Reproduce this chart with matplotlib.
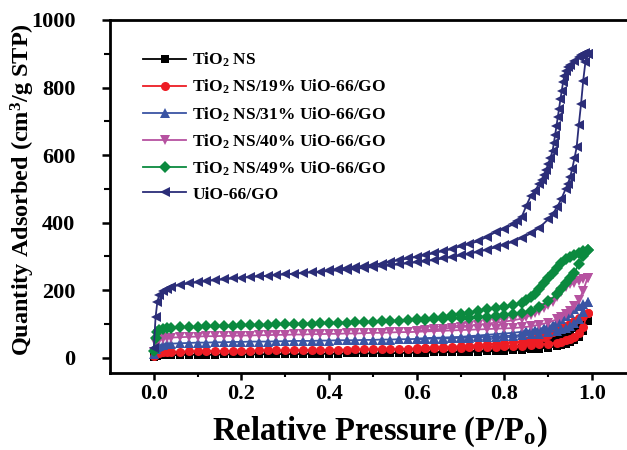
import numpy as np
import matplotlib
matplotlib.use("Agg")
import matplotlib.pyplot as plt
from matplotlib.ticker import MultipleLocator, FixedLocator

plt.rcParams['font.family'] = ['Liberation Serif', 'DejaVu Serif']
plt.rcParams['font.weight'] = 'bold'
plt.rcParams['mathtext.fontset'] = 'custom'
plt.rcParams['mathtext.rm'] = 'Liberation Serif:bold'
plt.rcParams['mathtext.it'] = 'Liberation Serif:bold'
plt.rcParams['mathtext.bf'] = 'Liberation Serif:bold'

# relative pressure grid, adsorption branch (low -> high)
p_ads = [0.0, 0.004, 0.008, 0.012, 0.02, 0.03, 0.04, 0.06, 0.08, 0.10,
         0.12, 0.14, 0.16, 0.18, 0.20, 0.22, 0.24, 0.26, 0.28, 0.30,
         0.32, 0.34, 0.36, 0.38, 0.40, 0.42, 0.44, 0.46, 0.48, 0.50,
         0.52, 0.54, 0.56, 0.58, 0.60, 0.62, 0.64, 0.66, 0.68, 0.70,
         0.72, 0.74, 0.76, 0.78, 0.80, 0.82, 0.84, 0.86, 0.88, 0.90,
         0.92, 0.93, 0.94, 0.95, 0.96, 0.97, 0.98, 0.99]

# desorption branch (high -> low)
p_des = [0.99, 0.98, 0.97, 0.96, 0.95, 0.94, 0.93, 0.92, 0.91, 0.90,
         0.89, 0.88, 0.87, 0.86, 0.85, 0.84, 0.82, 0.80, 0.78, 0.76,
         0.74, 0.72, 0.70, 0.68, 0.66, 0.64, 0.62, 0.60]

# UiO-66/GO was measured on a finer grid near saturation
p_ads_uio = [0.0, 0.004, 0.008, 0.012, 0.02, 0.03, 0.04, 0.06, 0.08, 0.10,
             0.12, 0.14, 0.16, 0.18, 0.20, 0.22, 0.24, 0.26, 0.28, 0.30,
             0.32, 0.34, 0.36, 0.38, 0.40, 0.42, 0.44, 0.46, 0.48, 0.50,
             0.52, 0.54, 0.56, 0.58, 0.60, 0.62, 0.64, 0.66, 0.68, 0.70,
             0.72, 0.74, 0.76, 0.78, 0.80, 0.82, 0.84, 0.86, 0.88, 0.90,
             0.91, 0.92, 0.93, 0.94, 0.945, 0.95, 0.955, 0.96, 0.965, 0.97,
             0.975, 0.98, 0.985, 0.99]

p_des_uio = [0.99, 0.985, 0.98, 0.975, 0.97, 0.96, 0.95, 0.945, 0.94, 0.937,
             0.934, 0.931, 0.928, 0.925, 0.922, 0.919, 0.916, 0.913, 0.91, 0.905,
             0.90, 0.895, 0.89, 0.885, 0.88, 0.87, 0.86, 0.85, 0.84, 0.83,
             0.82, 0.80, 0.78, 0.76, 0.74, 0.72, 0.70, 0.68, 0.66, 0.64,
             0.62, 0.60, 0.58, 0.56, 0.54, 0.52, 0.50, 0.48, 0.46, 0.44,
             0.42, 0.40]

tio2_ads = [2, 5, 6, 7, 7, 8, 8, 8, 9, 9,
            9, 9, 10, 10, 10, 10, 10, 11, 11, 11,
            11, 11, 12, 12, 12, 12, 13, 13, 13, 13,
            14, 14, 14, 15, 15, 15, 16, 16, 17, 17,
            18, 18, 19, 20, 21, 22, 23, 25, 27, 30,
            34, 37, 41, 46, 53, 63, 80, 108]
tio2_des = [108, 102, 95, 87, 78, 70, 62, 55, 49, 44,
            40, 37, 34, 32, 30, 28, 26, 24, 23, 22,
            21, 20, 19, 18, 18, 17, 17, 16]

u19_ads = [4, 10, 13, 15, 16, 17, 18, 18, 19, 19,
           20, 20, 20, 21, 21, 21, 22, 22, 22, 22,
           23, 23, 23, 23, 24, 24, 24, 25, 25, 25,
           26, 26, 26, 27, 27, 28, 28, 29, 29, 30,
           31, 31, 32, 33, 34, 35, 36, 38, 40, 42,
           45, 48, 52, 57, 63, 72, 92, 132]
u19_des = [132, 124, 118, 110, 102, 95, 89, 82, 75, 68,
           63, 59, 55, 52, 50, 48, 46, 44, 42, 40,
           38, 36, 34, 33, 32, 31, 30, 29]

u31_ads = [10, 25, 32, 36, 39, 41, 42, 43, 44, 45,
           45, 46, 46, 47, 47, 48, 48, 48, 49, 49,
           50, 50, 50, 51, 51, 52, 52, 52, 53, 53,
           54, 54, 55, 55, 56, 56, 57, 57, 58, 59,
           60, 61, 62, 63, 64, 66, 67, 69, 71, 75,
           80, 84, 88, 94, 103, 116, 135, 165]
u31_des = [165, 160, 152, 143, 133, 123, 114, 105, 98, 93,
           89, 86, 83, 81, 79, 77, 74, 72, 70, 68,
           66, 64, 62, 61, 60, 59, 58, 57]

u40_ads = [18, 40, 50, 54, 57, 59, 60, 61, 62, 63,
           64, 64, 65, 65, 66, 66, 67, 67, 68, 68,
           69, 69, 70, 70, 71, 71, 72, 72, 73, 74,
           74, 75, 76, 76, 77, 78, 79, 80, 81, 82,
           83, 84, 85, 86, 87, 88, 90, 93, 98, 104,
           114, 121, 129, 140, 152, 170, 198, 237]
u40_des = [237, 234, 228, 222, 217, 210, 195, 180, 166, 155,
           146, 139, 132, 126, 120, 116, 111, 107, 104, 101,
           98, 95, 92, 89, 86, 84, 82, 80]

u49_ads = [20, 60, 75, 81, 85, 87, 88, 90, 91, 92,
           93, 94, 95, 95, 96, 97, 97, 98, 99, 99,
           100, 101, 101, 102, 103, 104, 104, 105, 106, 107,
           108, 109, 110, 111, 112, 113, 114, 116, 117, 118,
           119, 121, 122, 124, 126, 129, 133, 139, 150, 167,
           188, 203, 220, 236, 252, 278, 300, 318]
u49_des = [318, 316, 310, 305, 299, 292, 280, 266, 250, 235,
           220, 205, 190, 180, 170, 163, 156, 151, 147, 143,
           138, 134, 130, 126, 122, 119, 116, 114]

uio_ads = [30, 120, 165, 185, 197, 205, 210, 216, 220, 224,
           227, 230, 232, 235, 237, 239, 241, 243, 245, 247,
           249, 251, 253, 255, 257, 259, 261, 264, 266, 269,
           271, 274, 277, 280, 283, 286, 290, 294, 298, 303,
           308, 314, 320, 327, 335, 344, 355, 368, 385, 410,
           425, 445, 470, 500, 515, 534, 560, 590, 623, 690,
           750, 820, 875, 900]
uio_des = [900, 903, 900, 895, 890, 880, 868, 860, 850, 835,
           815, 790, 765, 738, 712, 686, 660, 635, 612, 592,
           573, 556, 540, 527, 515, 495, 478, 450, 418, 405,
           395, 382, 372, 358, 345, 337, 330, 322, 316, 310,
           304, 299, 294, 289, 284, 279, 275, 271, 268, 266,
           262, 259]

labels = ['TiO$_2$ NS', 'TiO$_2$ NS/19% UiO-66/GO', 'TiO$_2$ NS/31% UiO-66/GO',
          'TiO$_2$ NS/40% UiO-66/GO', 'TiO$_2$ NS/49% UiO-66/GO', 'UiO-66/GO']

series = [
    (p_ads, p_des, tio2_ads, tio2_des, '#000000', 's', 6),
    (p_ads, p_des, u19_ads, u19_des, '#ed1c24', 'o', 6.5),
    (p_ads, p_des, u31_ads, u31_des, '#3a54a4', '^', 7),
    (p_ads, p_des, u40_ads, u40_des, '#b652a0', 'v', 7),
    (p_ads, p_des, u49_ads, u49_des, '#0b8a3f', 'D', 6),
    (p_ads_uio, p_des_uio, uio_ads, uio_des, '#2b2d78', '<', 7.5),
]

fig = plt.figure(figsize=(6.27, 4.5), dpi=100)
ax = fig.add_axes([110 / 627, 1 - 373 / 450, 1 - 110 / 627, (373 - 20) / 450])

for (pa, pd_, ads, des, col, mk, ms), lab in zip(series, labels):
    x = np.r_[pa, pd_]
    y = np.r_[ads, des]
    ax.plot(x, y, color=col, marker=mk, markersize=ms, linewidth=1.3,
            markeredgewidth=0, label=lab)

ax.set_xlim(-0.1, 1.08)
ax.set_ylim(-45, 1000)
ax.xaxis.set_major_locator(FixedLocator([0.0, 0.2, 0.4, 0.6, 0.8, 1.0]))
ax.xaxis.set_minor_locator(FixedLocator([0.1, 0.3, 0.5, 0.7, 0.9]))
ax.yaxis.set_major_locator(MultipleLocator(200))
ax.yaxis.set_minor_locator(FixedLocator([100, 300, 500, 700, 900]))
ax.set_xticklabels(['0.0', '0.2', '0.4', '0.6', '0.8', '1.0'])

ax.spines['right'].set_visible(False)
for s in ['left', 'bottom', 'top']:
    ax.spines[s].set_linewidth(2)
ax.tick_params(which='major', direction='out', width=1.8, labelsize=16,
               top=False, right=False)
ax.tick_params(which='minor', direction='out', width=1.5, top=False, right=False)
ax.tick_params(axis='x', which='major', length=5, pad=3)
ax.tick_params(axis='x', which='minor', length=3)
ax.tick_params(axis='y', which='major', length=6, pad=19)
ax.tick_params(axis='y', which='minor', length=4)

ax.set_xlabel('Relative Pressure (P/P$_\\mathrm{o}$)', fontsize=23.5, fontweight='bold')
ax.xaxis.set_label_coords(0.522, -0.117)
ax.set_ylabel('Quantity Adsorbed (cm$^3$/g STP)', fontsize=17.5, fontweight='bold')
ax.yaxis.set_label_coords(-0.142, 0.52)

leg = ax.legend(loc='upper left', bbox_to_anchor=(143 / 627, 1 - 51 / 450),
                bbox_transform=fig.transFigure, frameon=False, fontsize=12.5,
                handlelength=2.5, handletextpad=0.35, labelspacing=0.5,
                borderaxespad=0, borderpad=0)

fig.savefig('out.png', dpi=100)
